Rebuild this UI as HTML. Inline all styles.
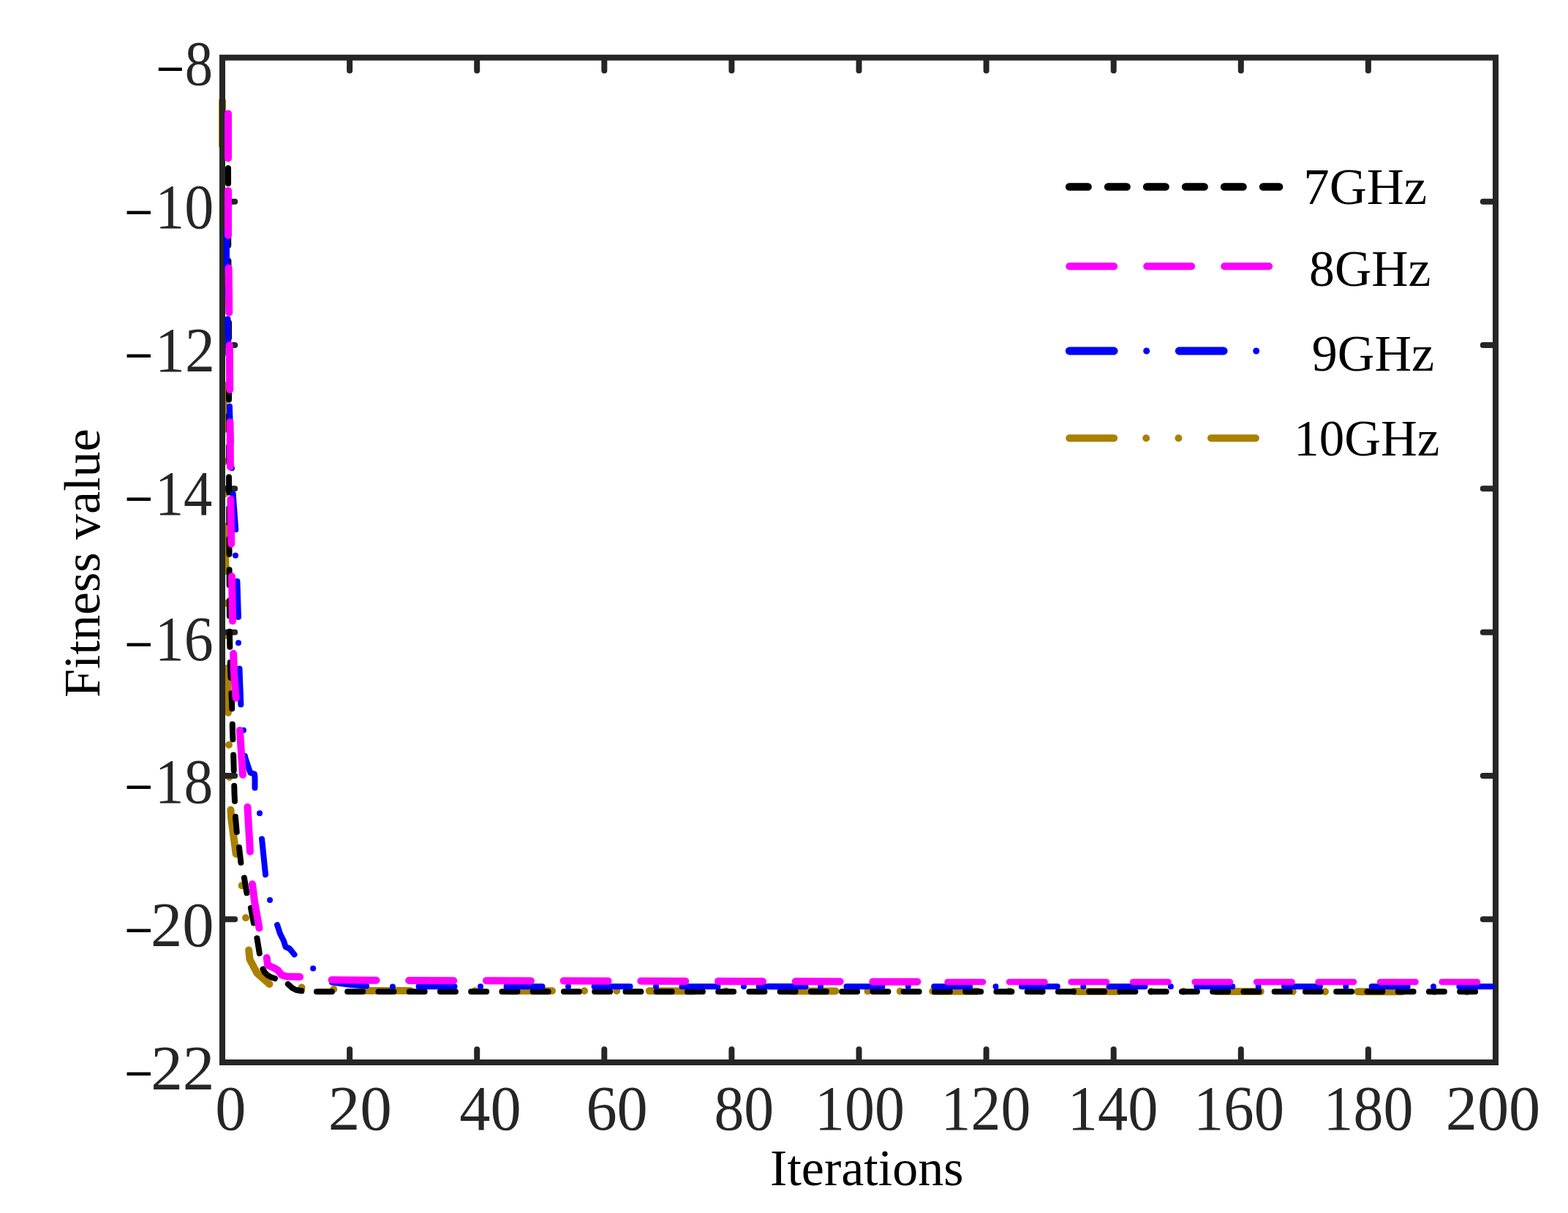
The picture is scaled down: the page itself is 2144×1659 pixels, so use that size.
<!DOCTYPE html>
<html lang="en">
<head>
<meta charset="utf-8">
<title>Fitness value vs Iterations</title>
<style>
html,body{margin:0;padding:0;background:#fff;}
body{width:2144px;height:1659px;overflow:hidden;}
svg{display:block;}
text{font-family:"Liberation Serif","Times New Roman",serif;}
.tk{font-size:86px;fill:#262626;}
.mn{font-size:80px;fill:#000;}
.lb{font-size:70px;fill:#000;}
.ax{stroke:#262626;fill:none;}
.cv{fill:none;stroke-linecap:round;stroke-linejoin:round;}
</style>
</head>
<body>
<svg width="2144" height="1659" viewBox="0 0 2144 1659">
<rect x="0" y="0" width="2144" height="1659" fill="#ffffff"/>
<g id="curve-10ghz"><path class="cv" d="M304.00 136.00L304.00 201.00" stroke="#aa8000" stroke-width="10" style="stroke-linecap:butt"/>
<path class="cv" d="M304.60 202.00L305.20 246.00L305.50 500.00L308.00 750.00L312.00 975.00L313.00 1019.00L313.50 1062.00L315.40 1107.00L316.25 1120.00L322.50 1167.00L330.60 1211.00L336.00 1255.00L340.00 1298.00L341.50 1312.00L351.50 1331.00L368.50 1346.00" stroke="#aa8000" stroke-width="10" stroke-dasharray="61 44 0 44.25 0 44.5" stroke-dashoffset="63.20"/>
<path class="cv" d="M412.50 1350.60h0.01" stroke="#aa8000" stroke-width="10"/>
<path class="cv" d="M456.25 1353.00h0.01" stroke="#aa8000" stroke-width="10"/>
<path class="cv" d="M500.25 1355.00L2044.80 1356.40" stroke="#aa8000" stroke-width="10" stroke-dasharray="61 44 0 44.25 0 44.5"/>
</g>
<g id="axes" class="ax" stroke-width="8.0">
<path d="M304.0 1453.0V78.8H2045.0V1453.0Z" stroke-linejoin="miter"/>
<path d="M478.10 79.8v16.8M478.10 1452.0v-16.8M652.20 79.8v16.8M652.20 1452.0v-16.8M826.30 79.8v16.8M826.30 1452.0v-16.8M1000.40 79.8v16.8M1000.40 1452.0v-16.8M1174.50 79.8v16.8M1174.50 1452.0v-16.8M1348.60 79.8v16.8M1348.60 1452.0v-16.8M1522.70 79.8v16.8M1522.70 1452.0v-16.8M1696.80 79.8v16.8M1696.80 1452.0v-16.8M1870.90 79.8v16.8M1870.90 1452.0v-16.8M305.0 275.71h16.2M2044.0 275.71h-16.2M305.0 472.03h16.2M2044.0 472.03h-16.2M305.0 668.34h16.2M2044.0 668.34h-16.2M305.0 864.66h16.2M2044.0 864.66h-16.2M305.0 1060.97h16.2M2044.0 1060.97h-16.2M305.0 1257.29h16.2M2044.0 1257.29h-16.2" stroke-width="8.0" stroke-linecap="round"/>
</g>
<g id="curve-7ghz"><path class="cv" d="M312.00 187.70L312.00 226.00L312.20 330.00L313.00 440.00L313.00 650.00L314.00 870.00L315.00 915.00L317.00 960.00L318.00 1000.00L319.40 1040.00L320.50 1085.00L322.00 1118.00L323.75 1138.00L327.00 1159.00L329.40 1180.00L334.00 1201.00L337.50 1222.00L343.00 1242.00L347.00 1263.00L351.60 1284.00L354.75 1303.50L356.00 1310.00" stroke="#000000" stroke-width="8" stroke-dasharray="21 21.25"/>
<path class="cv" d="M359.50 1325.50L362.00 1330.00L366.00 1334.00L372.00 1337.00L376.00 1338.30" stroke="#000000" stroke-width="8"/>
<path class="cv" d="M393.75 1346.00L400.00 1351.50L405.00 1354.00L412.50 1355.30" stroke="#000000" stroke-width="8"/>
<path class="cv" d="M432.90 1356.20L2020.00 1356.20" stroke="#000000" stroke-width="8" stroke-dasharray="21 21.25"/>
</g>
<g id="curve-9ghz"><path class="cv" d="M310.00 316.50L310.00 370.00L312.00 460.00L314.00 560.00L317.00 640.00L319.00 680.00L322.50 728.00L322.00 760.00L324.40 795.00L326.00 845.00L326.00 880.00L327.50 915.00L329.40 965.00L333.00 999.00L335.00 1035.25L340.50 1052.00L342.50 1057.00L348.00 1058.50L348.50 1064.00L348.50 1078.00L355.00 1112.00L358.00 1147.00L363.00 1196.00L369.00 1231.00L378.75 1264.00L383.00 1277.00L388.00 1287.00L390.50 1295.00L396.00 1297.50L402.50 1305.50" stroke="#0000ff" stroke-width="8" stroke-dasharray="49 35.35 0 35.35"/>
<path class="cv" d="M428.10 1324.40h0.01" stroke="#0000ff" stroke-width="8"/>
<path class="cv" d="M454.00 1343.50L480.00 1347.00L501.00 1348.50" stroke="#0000ff" stroke-width="8"/>
<path class="cv" d="M536.90 1349.40h0.01" stroke="#0000ff" stroke-width="8"/>
<path class="cv" d="M572.50 1349.20L1102.00 1349.20" stroke="#0000ff" stroke-width="8" stroke-dasharray="49 35.5 0 35.5"/>
<path class="cv" d="M1037.75 1349.20L2040.00 1349.20" stroke="#0000ff" stroke-width="8" stroke-dasharray="49 35.35 0 35.35"/>
</g>
<g id="curve-8ghz"><path class="cv" d="M312.00 155.40L312.00 330.00L313.00 400.00L314.00 500.00L315.00 650.00L316.00 730.00L317.00 790.00L318.00 850.00L319.00 890.00L320.00 920.00L323.00 960.00L328.00 1000.00L332.00 1060.00L338.50 1104.00L342.00 1165.00L345.00 1209.00L348.00 1232.50L354.40 1269.00L357.00 1285.00" stroke="#ff00ff" stroke-width="10" stroke-dasharray="61 44.5"/>
<path class="cv" d="M364.75 1310.00L366.00 1320.00L375.00 1324.00L380.00 1327.00L385.00 1333.50L392.00 1335.50L410.00 1336.00" stroke="#ff00ff" stroke-width="10"/>
<path class="cv" d="M453.50 1340.30L560.00 1341.00L1255.00 1342.80" stroke="#ff00ff" stroke-width="10" stroke-dasharray="61 44.7"/>
<path class="cv" d="M1295.50 1343.00L2020.60 1343.00" stroke="#ff00ff" stroke-width="8.4" stroke-dasharray="48.6 35.9"/>
</g>
<g id="ytick-labels">
<text class="mn" style="font-size:88px" transform="translate(213.46 124.20) scale(0.7839 1)">−</text><text class="tk" transform="translate(252.69 116.00) scale(0.8889 1)">8</text>
<text class="mn" style="font-size:88px" transform="translate(170.28 320.40) scale(0.7924 1)">−</text><text class="tk" transform="translate(212.21 312.20) scale(0.9313 1)">10</text>
<text class="mn" style="font-size:88px" transform="translate(170.28 516.20) scale(0.7924 1)">−</text><text class="tk" transform="translate(212.07 508.00) scale(0.9498 1)">12</text>
<text class="mn" style="font-size:88px" transform="translate(170.28 712.20) scale(0.7924 1)">−</text><text class="tk" transform="translate(211.91 704.00) scale(0.9118 1)">14</text>
<text class="mn" style="font-size:88px" transform="translate(170.28 911.30) scale(0.7924 1)">−</text><text class="tk" transform="translate(211.79 903.10) scale(0.9278 1)">16</text>
<text class="mn" style="font-size:88px" transform="translate(170.28 1106.30) scale(0.7924 1)">−</text><text class="tk" transform="translate(211.81 1098.10) scale(0.9246 1)">18</text>
<text class="mn" style="font-size:88px" transform="translate(170.28 1302.00) scale(0.7924 1)">−</text><text class="tk" transform="translate(205.99 1293.80) scale(1.0070 1)">20</text>
<text class="mn" style="font-size:88px" transform="translate(170.28 1498.20) scale(0.7924 1)">−</text><text class="tk" transform="translate(206.16 1490.00) scale(1.0164 1)">22</text>
</g>
<g id="xtick-labels">
<text class="tk" transform="translate(294.29 1545.0) scale(0.9808 1)">0</text>
<text class="tk" transform="translate(448.67 1545.0) scale(1.0134 1)">20</text>
<text class="tk" transform="translate(628.35 1545.0) scale(0.9809 1)">40</text>
<text class="tk" transform="translate(801.38 1545.0) scale(0.9806 1)">60</text>
<text class="tk" transform="translate(976.39 1545.0) scale(0.9503 1)">80</text>
<text class="tk" transform="translate(1114.05 1545.0) scale(0.9521 1)">100</text>
<text class="tk" transform="translate(1286.55 1545.0) scale(0.9521 1)">120</text>
<text class="tk" transform="translate(1459.65 1545.0) scale(0.9592 1)">140</text>
<text class="tk" transform="translate(1631.97 1545.0) scale(0.9626 1)">160</text>
<text class="tk" transform="translate(1809.55 1545.0) scale(0.9521 1)">180</text>
<text class="tk" transform="translate(1976.70 1545.0) scale(1.0045 1)">200</text>
</g>
<text id="xlabel" class="lb" x="1053.08" y="1620.5">Iterations</text>
<text id="ylabel" class="lb" transform="translate(136 953.90) rotate(-90)">Fitness value</text>
<g id="legend">
<path class="cv" d="M1462.2 255.5H1749" stroke="#000000" stroke-width="10.7" stroke-dasharray="25.3 27.7"/><text class="lb" transform="translate(1782.34 279.0) scale(1.0102 1)">7GHz</text>
<path class="cv" d="M1462.2 364.25H1749" stroke="#ff00ff" stroke-width="10" stroke-dasharray="61 45"/><text class="lb" transform="translate(1790.05 390.6) scale(0.9953 1)">8GHz</text>
<path class="cv" d="M1462.2 480.0H1749" stroke="#0000ff" stroke-width="10.8" stroke-dasharray="61 89"/><path class="cv" d="M1567.7 480.0h0.01M1717.7 480.0h0.01" stroke="#0000ff" stroke-width="9"/><text class="lb" transform="translate(1793.74 506.7) scale(1.0020 1)">9GHz</text>
<path class="cv" d="M1462.2 599.25H1749" stroke="#aa8000" stroke-width="10" stroke-dasharray="61 44 0 44.25 0 44.5"/><text class="lb" transform="translate(1769.35 622.6) scale(0.9837 1)">10GHz</text>
</g>
</svg>
</body>
</html>
